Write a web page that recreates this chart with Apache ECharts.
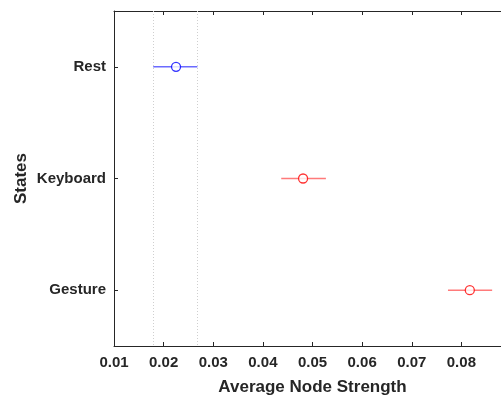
<!DOCTYPE html>
<html>
<head>
<meta charset="utf-8">
<script src="https://cdn.jsdelivr.net/npm/echarts@6/dist/echarts.min.js"></script>
<style>
  html, body { margin: 0; padding: 0; background: #fff; }
  #chart { width: 501px; height: 396px; }
</style>
</head>
<body>
<div id="chart"></div>
<script>
// states, top to bottom
var states = ['Rest', 'Keyboard', 'Gesture'];
var means = [0.0225, 0.0481, 0.0817];
var lows = [0.0179, 0.0437, 0.0773];
var highs = [0.0268, 0.0527, 0.0862];
var colors = ['#0000ff', '#ff0000', '#ff0000'];
var barColors = ['#6b6bff', '#ff7a7a', '#ff7a7a'];
// dotted reference lines (Rest interval)
var refLines = [0.0179, 0.0268];

var font = 'Liberation Sans, Arial, Helvetica, sans-serif';
var axisColor = '#262626';

var chart = echarts.init(document.getElementById('chart'));

var errData = states.map(function (s, i) {
    return [lows[i], highs[i], i];
});
var dotData = states.map(function (s, i) {
    return {
        value: [means[i], i],
        itemStyle: { color: '#fff', borderColor: colors[i] }
    };
});

chart.setOption({
    animation: false,
    // axis runs a bit past the right edge, as in the original figure
    grid: { left: 114, width: 397, top: 11, height: 335, show: false, outerBoundsMode: 'none' },
    xAxis: [{
        type: 'value',
        min: 0.01,
        max: 0.09,
        interval: 0.01,
        position: 'bottom',
        name: 'Average Node Strength',
        nameLocation: 'middle',
        nameGap: 33,
        nameMoveOverlap: false,
        nameTextStyle: { fontFamily: font, fontWeight: 'bold', fontSize: 17, color: axisColor },
        axisLine: { show: true, lineStyle: { color: axisColor, width: 1 } },
        axisTick: { show: true, inside: true, length: 4, lineStyle: { color: axisColor } },
        axisLabel: {
            fontFamily: font, fontWeight: 'bold', fontSize: 15, color: axisColor, margin: 9,
            formatter: function (v) { return v >= 0.0899 ? '' : v.toFixed(2); }
        },
        splitLine: { show: false }
    }, {
        type: 'value',
        min: 0.01,
        max: 0.09,
        interval: 0.01,
        position: 'top',
        axisLine: { show: true, lineStyle: { color: axisColor, width: 1 } },
        axisTick: { show: true, inside: true, length: 4, lineStyle: { color: axisColor } },
        axisLabel: { show: false },
        splitLine: { show: false }
    }],
    yAxis: {
        type: 'category',
        data: states,
        inverse: true,
        name: 'States',
        nameLocation: 'middle',
        nameGap: 84,
        nameMoveOverlap: false,
        nameRotate: 90,
        nameTextStyle: { fontFamily: font, fontWeight: 'bold', fontSize: 17, color: axisColor },
        axisLine: { show: true, lineStyle: { color: axisColor, width: 1 } },
        axisTick: { show: true, inside: true, length: 4, alignWithLabel: true, lineStyle: { color: axisColor } },
        axisLabel: { fontFamily: font, fontWeight: 'bold', fontSize: 15, color: axisColor, margin: 8 },
        splitLine: { show: false }
    },
    series: [{
        type: 'custom',
        data: errData,
        encode: { x: [0, 1], y: 2 },
        renderItem: function (params, api) {
            var y = api.value(2);
            var p1 = api.coord([api.value(0), y]);
            var p2 = api.coord([api.value(1), y]);
            return {
                type: 'line',
                shape: { x1: p1[0], y1: p1[1], x2: p2[0], y2: p2[1] },
                style: { stroke: barColors[params.dataIndex], lineWidth: 1.5 }
            };
        },
        z: 2
    }, {
        type: 'scatter',
        data: dotData,
        symbol: 'circle',
        symbolSize: 9,
        itemStyle: { borderWidth: 1.3 },
        markLine: {
            silent: true,
            symbol: 'none',
            precision: 5,
            label: { show: false },
            lineStyle: { color: '#cfcfcf', type: [1, 2], width: 1 },
            data: refLines.map(function (v) { return { xAxis: v }; })
        },
        z: 3
    }]
});
</script>
</body>
</html>
